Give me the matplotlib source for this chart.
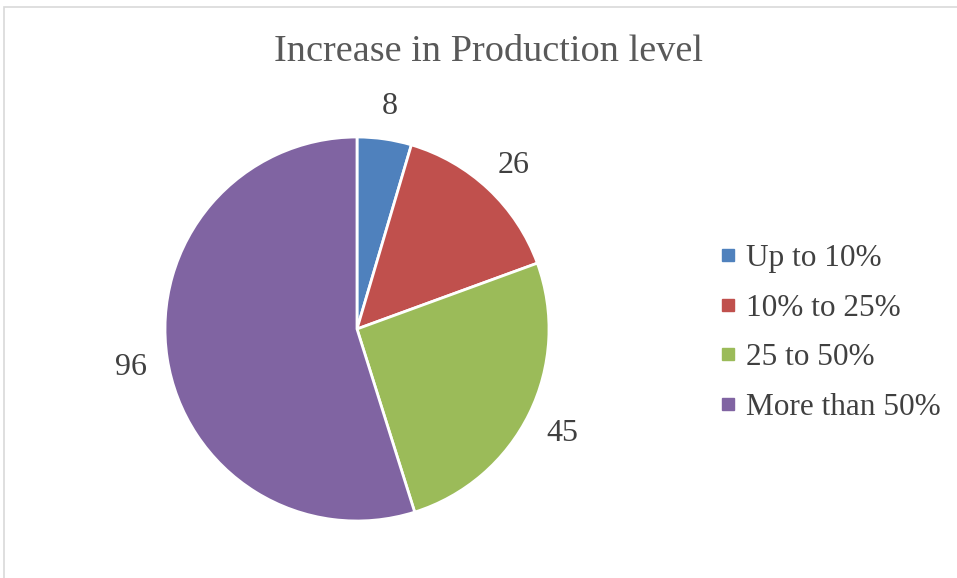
import matplotlib.pyplot as plt
from matplotlib.lines import Line2D
from matplotlib.patches import Rectangle

# data
categories = ["Up to 10%", "10% to 25%", "25 to 50%", "More than 50%"]
counts = [8, 26, 45, 96]
colors = ["#4F81BD", "#C0504D", "#9BBB59", "#8064A2"]
title = "Increase in Production level"

plt.rcParams["font.family"] = ["Liberation Serif", "DejaVu Serif"]

W, H = 957, 578
fig = plt.figure(figsize=(W / 100, H / 100), dpi=100)

# light chart-area border (top and left visible)
fig.patches.append(Rectangle((4 / W, -0.1), 1.2, (H - 7) / H + 0.1, transform=fig.transFigure,
                             fill=False, edgecolor="#D9D9D9", linewidth=1.2))

# pie axes: center (357, 329) px, radius 192 px
cx, cy, r = 357, H - 329, 192
ax = fig.add_axes([(cx - r) / W, (cy - r) / H, 2 * r / W, 2 * r / H])
total = sum(counts)
wedges, texts, autotexts = ax.pie(
    counts, colors=colors, startangle=90, counterclock=False,
    wedgeprops=dict(edgecolor="white", linewidth=2),
    autopct=lambda p: f"{round(p * total / 100)}", pctdistance=1.19,
    textprops=dict(fontsize=23, color="#404040"))
for t in autotexts:
    t.set_va("center_baseline")
ax.set_aspect("equal")
ax.set_xlim(-1, 1)
ax.set_ylim(-1, 1)

fig.text(488 / W, 1 - 52 / H, title, ha="center", va="center", fontsize=27.5, color="#595959")

handles = [Line2D([], [], marker="s", linestyle="none", markersize=8.5, markerfacecolor=c,
                  markeredgecolor=c) for c in colors]
fig.legend(handles, categories, loc="center left", bbox_to_anchor=(698 / W, 1 - 333 / H),
           frameon=False, fontsize=22.5, labelcolor="#404040", handletextpad=0.15,
           handlelength=0.9, labelspacing=0.66, borderpad=0)

fig.savefig("out.png", dpi=100)
